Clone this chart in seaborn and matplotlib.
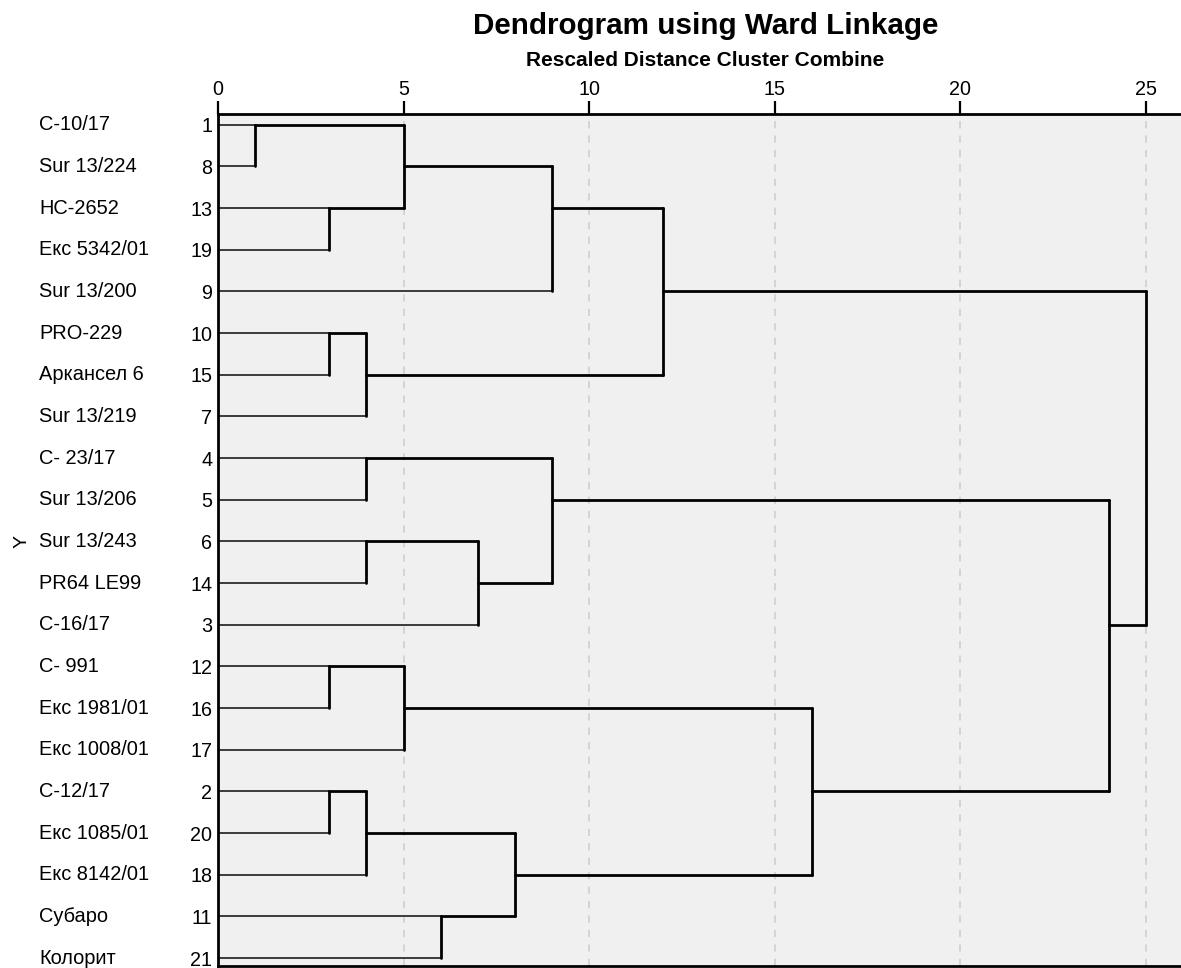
import numpy as np
import pandas as pd
import matplotlib
matplotlib.use('Agg')
import matplotlib.pyplot as plt
import matplotlib.transforms as mtransforms
import seaborn as sns

# leaves, top to bottom, as SPSS ordered them
labels = ['С-10/17', 'Sur 13/224', 'НС-2652', 'Екс 5342/01', 'Sur 13/200',
          'PRO-229', 'Аркансел 6', 'Sur 13/219', 'С- 23/17', 'Sur 13/206',
          'Sur 13/243', 'PR64 LE99', 'С-16/17', 'С- 991', 'Екс 1981/01',
          'Екс 1008/01', 'С-12/17', 'Екс 1085/01', 'Екс 8142/01', 'Субаро',
          'Колорит']
case_ids = [1, 8, 13, 19, 9, 10, 15, 7, 4, 5, 6, 14, 3, 12, 16, 17, 2, 20, 18, 11, 21]

# agglomeration schedule: cluster with case a joins cluster with case b at rescaled distance
merge_a = [1, 13, 10, 12, 2, 10, 4, 6, 2, 1, 12, 11, 6, 2, 1, 4, 1, 12, 4, 1]
merge_b = [8, 19, 15, 16, 20, 7, 5, 14, 18, 13, 17, 21, 3, 11, 9, 6, 10, 2, 12, 4]
merge_dist = [1, 3, 3, 3, 3, 4, 4, 4, 4, 5, 5, 6, 7, 8, 9, 9, 12, 16, 24, 25]

# build the line segments
clusters = [{'members': {c}, 'pos': i, 'x': 0, 'leaf': True} for i, c in enumerate(case_ids)]
segs = []
sid = 0


def find(c):
    for cl in clusters:
        if c in cl['members']:
            return cl


for a, b, d in zip(merge_a, merge_b, merge_dist):
    ca, cb = find(a), find(b)
    for ch in (ca, cb):
        kind = 'leaf' if ch['leaf'] else 'node'
        segs += [(sid, kind, ch['x'], ch['pos']), (sid, kind, d, ch['pos'])]
        sid += 1
    lo, hi = sorted([ca['pos'], cb['pos']])
    segs += [(sid, 'node', d, lo), (sid, 'node', d, hi)]
    sid += 1
    clusters.remove(ca)
    clusters.remove(cb)
    clusters.append({'members': ca['members'] | cb['members'],
                     'pos': (ca['pos'] + cb['pos']) // 2, 'x': d, 'leaf': False})

df = pd.DataFrame(segs, columns=['seg', 'kind', 'x', 'y'])

sns.set_style('white', {'axes.facecolor': '#f0f0f0'})
plt.rcParams['font.family'] = ['Liberation Sans', 'DejaVu Sans']
plt.rcParams['text.color'] = 'black'
plt.rcParams['xtick.color'] = 'black'
plt.rcParams['ytick.color'] = 'black'

fig = plt.figure(figsize=(11.81, 9.68), dpi=100)
ax = fig.add_axes([218 / 1181, 2 / 968, 963 / 1181, 852 / 968])

for v in [5, 10, 15, 20, 25]:
    ax.axvline(v, color='#d2d2d2', lw=1.3, ls=(0, (4, 4)), zorder=0)

sns.lineplot(data=df[df.kind == 'leaf'], x='x', y='y', units='seg', estimator=None,
             sort=False, color='#3c3c3c', lw=1.4, ax=ax)
sns.lineplot(data=df[df.kind == 'node'], x='x', y='y', units='seg', estimator=None,
             sort=False, color='black', lw=2.0, ax=ax)

ax.set_xlim(0, 25.94)
ax.set_ylim(20.19, -0.26)
ax.set_xlabel('')
ax.set_ylabel('')

ax.xaxis.tick_top()
ax.set_xticks([0, 5, 10, 15, 20, 25])
ax.tick_params(axis='x', top=True, bottom=False, length=9.5, width=1.6, color='black',
               labelcolor='black', labelsize=14.2, pad=1.5)
ax.set_yticks(range(len(case_ids)))
ax.set_yticklabels([str(c) for c in case_ids])
ax.tick_params(axis='y', left=False, length=0, labelsize=14.2, labelcolor='black', pad=4)

for s in ['top', 'left', 'bottom']:
    ax.spines[s].set_visible(True)
    ax.spines[s].set_color('black')
    ax.spines[s].set_linewidth(2)
ax.spines['right'].set_visible(False)

tr = mtransforms.blended_transform_factory(fig.transFigure, ax.transData)
for i, name in enumerate(labels):
    ax.text(39 / 1181, i, name, transform=tr, ha='left', va='center', fontsize=14.4,
            color='black')

fig.text(22 / 1181, 1 - 541 / 968, 'Y', rotation=90, ha='center', va='center',
         fontsize=14, color='black')

cx = (218 + 1181) / 2 / 1181 + 6 / 1181
fig.text(cx, 1 - 34 / 968, 'Dendrogram using Ward Linkage', ha='center', va='baseline',
         fontsize=21.3, fontweight='bold', color='black')
fig.text(cx, 1 - 66 / 968, 'Rescaled Distance Cluster Combine', ha='center', va='baseline',
         fontsize=15, fontweight='bold', color='black')

fig.savefig('out.png', dpi=100)
